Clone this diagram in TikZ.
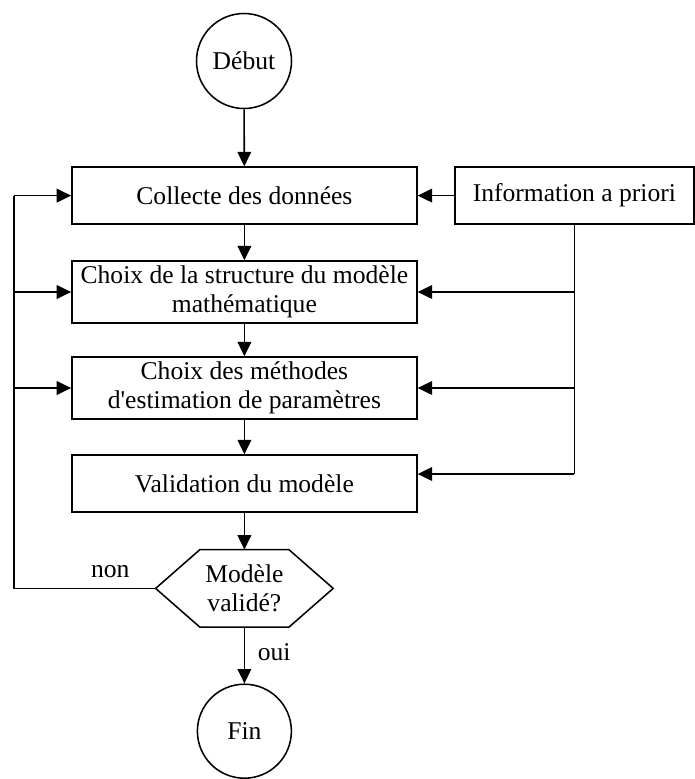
\documentclass[tikz,border=0pt]{standalone}
\usepackage{fontspec}
\setmainfont{Liberation Serif}
\usetikzlibrary{arrows.meta,calc}

\tikzset{
  boite/.style={draw, line width=1.1pt, minimum width=8.625cm, minimum height=1.425cm, align=center},
  rond/.style={draw, circle, line width=1.1pt, minimum size=2.375cm, inner sep=0pt},
  fleche/.style={line width=1.1pt, -{Triangle[length=0.36cm,width=0.34cm]}},
  trait/.style={line width=1.1pt}
}

\begin{document}
\begin{tikzpicture}[font=\fontsize{18.2}{20.8}\selectfont]
    \useasboundingbox (0,0) rectangle (17.375,-19.475);
    % noeuds
    \node[rond] (debut) at (6.1,-1.525) {Début};
    \node[boite] (collecte) at (6.11,-4.89) {Collecte des données};
    \node[boite, minimum width=5.975cm] (info) at (14.36,-4.89) {Information a priori};
    \node[boite] (structure) at (6.11,-7.3) {Choix de la structure du modèle\\mathématique};
    \node[boite] (methodes) at (6.11,-9.7) {Choix des méthodes\\d\textquotesingle estimation de paramètres};
    \node[boite] (validation) at (6.11,-12.09) {Validation du modèle};
    \node[minimum width=4.425cm, minimum height=1.925cm, align=center] (valide) at (6.11,-14.71) {Modèle\\validé?};
    \draw[trait] (valide.west) -- ($(valide.north)+(-1.1125,0)$) -- ($(valide.north)+(1.1125,0)$)
        -- (valide.east) -- ($(valide.south)+(1.1125,0)$) -- ($(valide.south)+(-1.1125,0)$) -- cycle;
    \node[rond, minimum size=2.35cm] (fin) at (6.11,-18.28) {Fin};
    % fleches principales
    \draw[fleche] (debut) -- (collecte);
    \draw[fleche] (collecte) -- (structure);
    \draw[fleche] (structure) -- (methodes);
    \draw[fleche] (methodes) -- (validation);
    \draw[fleche] (validation) -- (valide.north);
    \draw[fleche] (valide.south) -- node[right=0.2cm, pos=0.45] {oui} (fin);
    % boucle non
    \coordinate (gauche) at (0.35,-14.71);
    \draw[trait] (valide.west) -- node[above=0.12cm, pos=0.32] {non} (gauche) -- (gauche |- collecte.west);
    \draw[fleche] (gauche |- collecte.west) -- (collecte.west);
    \draw[fleche] (gauche |- structure.west) -- (structure.west);
    \draw[fleche] (gauche |- methodes.west) -- (methodes.west);
    % information a priori
    \draw[fleche] (info) -- (collecte);
    \coordinate (bas) at ($(info.south |- validation.east)+(0,0.24)$);
    \draw[trait] (info.south) -- (bas);
    \draw[fleche] (bas) -- (validation.east |- bas);
    \draw[fleche] (info.south |- structure.east) -- (structure.east);
    \draw[fleche] (info.south |- methodes.east) -- (methodes.east);
\end{tikzpicture}
\end{document}
